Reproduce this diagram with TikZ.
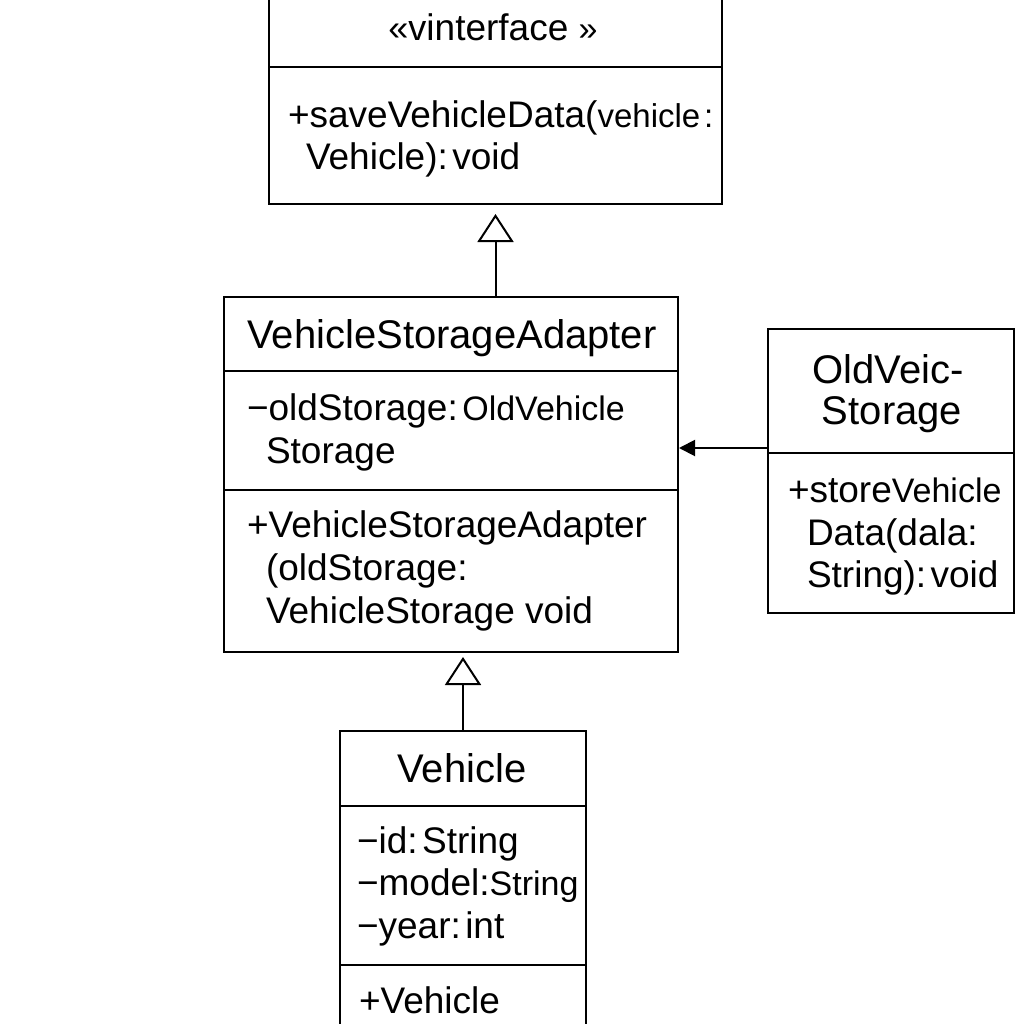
\documentclass[tikz,border=0pt]{standalone}
\usepackage{fontspec}
\setmainfont{Liberation Sans}
\usetikzlibrary{arrows.meta}
\newcommand{\tsp}{\hspace{0.12em}}
\begin{document}
\begin{tikzpicture}[x=1pt,y=-1pt,line width=2pt,
  box/.style={draw,rectangle,inner sep=0pt,anchor=north west},
  txt/.style={anchor=base west,inner sep=0pt,font=\fontsize{37}{40}\selectfont},
  ttl/.style={anchor=base,inner sep=0pt,font=\fontsize{40}{44}\selectfont},
  inh/.style={-{Triangle[open,length=28pt,width=36pt,line width=2pt]}},
  assoc/.style={-{Triangle[length=16pt,width=16pt]}}]
\useasboundingbox[fill=white] (0,0) rectangle (1024,1024);
% boxes
\node[box,minimum width=453pt,minimum height=213pt] (iface) at (268,-10) {};
\node[box,minimum width=454pt,minimum height=355pt] (adapter) at (223,296) {};
\node[box,minimum width=246pt,minimum height=284pt] (old) at (767,328) {};
\node[box,minimum width=246pt,minimum height=320pt] (vehicle) at (339,730) {};
% dividers
\draw (iface.west |- 0,67) -- (iface.east |- 0,67);
\draw (adapter.west |- 0,371) -- (adapter.east |- 0,371);
\draw (adapter.west |- 0,490) -- (adapter.east |- 0,490);
\draw (old.west |- 0,453) -- (old.east |- 0,453);
\draw (vehicle.west |- 0,806) -- (vehicle.east |- 0,806);
\draw (vehicle.west |- 0,965) -- (vehicle.east |- 0,965);
% texts
\node[ttl,font=\fontsize{37}{40}\selectfont] (t1) at (493,41) {{\fontsize{36}{38}\selectfont«v}interface {\fontsize{34}{36}\selectfont»}};
\node[txt] (t2) at (287,128) {+saveVehicleData({\fontsize{33}{34}\selectfont vehicle\tsp:}};
\node[txt] (t3) at (305,170) {Vehicle):\tsp void};
\node[ttl] (a1) at (452,348) {VehicleStorageAdapter};
\node[txt] (a2) at (246,420) {−oldStorage:\tsp{\fontsize{34}{34}\selectfont OldVehicle}};
\node[txt] (a3) at (265,463) {Storage};
\node[txt] (a4) at (246,537) {+VehicleStorageAdapter};
\node[txt] (a5) at (265,580) {(oldStorage:};
\node[txt] (a6) at (265,623) {VehicleStorage void};
\node[ttl] (o1) at (888,383) {OldVeic-};
\node[ttl] (o2) at (892,424) {Storage};
\node[txt] (o3) at (787,502) {+store{\fontsize{34}{34}\selectfont Vehicle}};
\node[txt] (o4) at (806,545) {Data(dala:};
\node[txt] (o5) at (806,587) {String):\tsp void};
\node[ttl] (v1) at (462,782) {Vehicle};
\node[txt] (v2) at (356,853) {−id:\tsp String};
\node[txt] (v3) at (356,895) {−model:{\fontsize{34}{34}\selectfont String}};
\node[txt] (v4) at (356,938) {−year:\tsp int};
\node[txt] (v5) at (358,1013) {+Vehicle};
% connectors
\draw[inh] (adapter.north -| iface.south) -- ([yshift=-9pt]iface.south);
\draw[inh] (vehicle.north) -- ([yshift=-4pt]adapter.south -| vehicle.north);
\draw[assoc] ([yshift=23pt]old.west) -- ([yshift=23pt]old.west -| adapter.east);
\end{tikzpicture}
\end{document}
